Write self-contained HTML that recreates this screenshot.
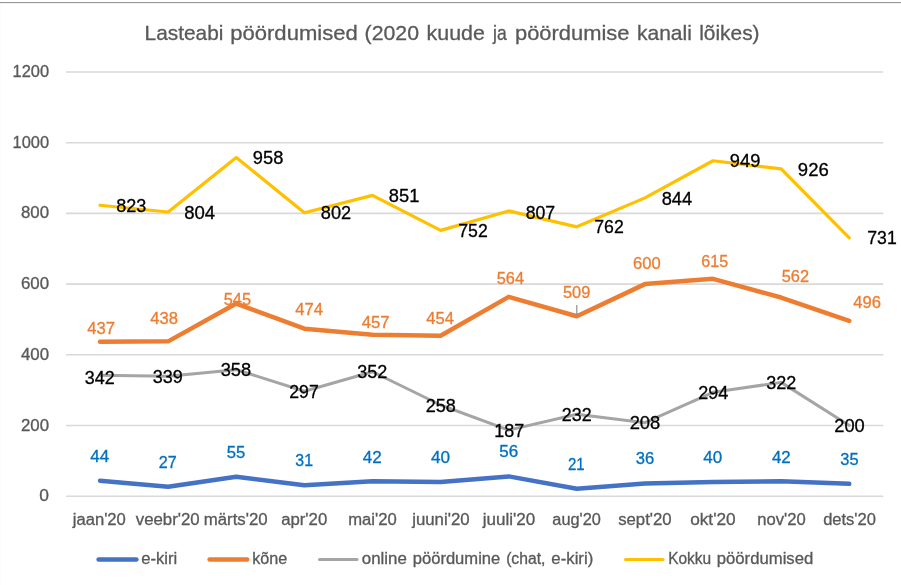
<!DOCTYPE html>
<html lang="et"><head><meta charset="utf-8"><title>Lasteabi pöördumised</title>
<style>html,body{margin:0;padding:0;background:#fff}svg{display:block}text{font-family:"Liberation Sans",sans-serif}</style>
</head><body>
<svg width="901" height="585" viewBox="0 0 901 585">
<rect x="0" y="0" width="901" height="585" fill="#fff"/>
<rect x="0" y="2" width="901" height="1" fill="#969696"/>
<rect x="0" y="3" width="901" height="1" fill="#f3f3f3"/>
<rect x="0" y="4" width="1" height="581" fill="#fbfbfb"/>
<line x1="66.0" y1="496.20" x2="883.3" y2="496.20" stroke="#D9D9D9" stroke-width="1.6"/>
<line x1="66.0" y1="425.50" x2="883.3" y2="425.50" stroke="#D9D9D9" stroke-width="1.6"/>
<line x1="66.0" y1="354.80" x2="883.3" y2="354.80" stroke="#D9D9D9" stroke-width="1.6"/>
<line x1="66.0" y1="284.10" x2="883.3" y2="284.10" stroke="#D9D9D9" stroke-width="1.6"/>
<line x1="66.0" y1="213.40" x2="883.3" y2="213.40" stroke="#D9D9D9" stroke-width="1.6"/>
<line x1="66.0" y1="142.70" x2="883.3" y2="142.70" stroke="#D9D9D9" stroke-width="1.6"/>
<line x1="66.0" y1="72.00" x2="883.3" y2="72.00" stroke="#D9D9D9" stroke-width="1.6"/>
<polyline points="100.05,205.27 168.16,211.99 236.27,157.55 304.38,212.69 372.49,195.37 440.60,230.37 508.70,210.93 576.81,226.83 644.92,197.85 713.03,160.73 781.14,168.86 849.25,237.79" fill="none" stroke="#FFC000" stroke-width="3.2" stroke-linecap="round" stroke-linejoin="round"/>
<polyline points="100.05,375.30 168.16,376.36 236.27,369.65 304.38,391.21 372.49,371.77 440.60,405.00 508.70,430.10 576.81,414.19 644.92,422.67 713.03,392.27 781.14,382.37 849.25,425.50" fill="none" stroke="#A5A5A5" stroke-width="3.0" stroke-linecap="round" stroke-linejoin="round"/>
<polyline points="100.05,341.72 168.16,341.37 236.27,303.54 304.38,328.64 372.49,334.65 440.60,335.71 508.70,296.83 576.81,316.27 644.92,284.10 713.03,278.80 781.14,297.53 849.25,320.86" fill="none" stroke="#ED7D31" stroke-width="4.5" stroke-linecap="round" stroke-linejoin="round"/>
<polyline points="100.05,480.65 168.16,486.66 236.27,476.76 304.38,485.24 372.49,481.35 440.60,482.06 508.70,476.40 576.81,488.78 644.92,483.47 713.03,482.06 781.14,481.35 849.25,483.83" fill="none" stroke="#4472C4" stroke-width="4.5" stroke-linecap="round" stroke-linejoin="round"/>
<line x1="576.8" y1="305" x2="576.8" y2="316" stroke="#8f8f8f" stroke-width="1.2"/>
<text x="44.2" y="501.2" font-size="15.6" fill="#595959" stroke="#595959" stroke-width="0.3" text-anchor="middle" textLength="9.7" lengthAdjust="spacingAndGlyphs">0</text>
<text x="35.0" y="430.5" font-size="15.6" fill="#595959" stroke="#595959" stroke-width="0.3" text-anchor="middle" textLength="28.1" lengthAdjust="spacingAndGlyphs">200</text>
<text x="35.0" y="359.8" font-size="15.6" fill="#595959" stroke="#595959" stroke-width="0.3" text-anchor="middle" textLength="28.1" lengthAdjust="spacingAndGlyphs">400</text>
<text x="35.0" y="289.1" font-size="15.6" fill="#595959" stroke="#595959" stroke-width="0.3" text-anchor="middle" textLength="28.1" lengthAdjust="spacingAndGlyphs">600</text>
<text x="35.0" y="218.4" font-size="15.6" fill="#595959" stroke="#595959" stroke-width="0.3" text-anchor="middle" textLength="28.1" lengthAdjust="spacingAndGlyphs">800</text>
<text x="30.8" y="147.7" font-size="15.6" fill="#595959" stroke="#595959" stroke-width="0.3" text-anchor="middle" textLength="36.5" lengthAdjust="spacingAndGlyphs">1000</text>
<text x="30.8" y="77.0" font-size="15.6" fill="#595959" stroke="#595959" stroke-width="0.3" text-anchor="middle" textLength="36.5" lengthAdjust="spacingAndGlyphs">1200</text>
<text x="99.3" y="524.9" font-size="15.6" fill="#595959" stroke="#595959" stroke-width="0.3" text-anchor="middle" textLength="53.1" lengthAdjust="spacingAndGlyphs">jaan'20</text>
<text x="167.7" y="524.9" font-size="15.6" fill="#595959" stroke="#595959" stroke-width="0.3" text-anchor="middle" textLength="63.9" lengthAdjust="spacingAndGlyphs">veebr'20</text>
<text x="235.7" y="524.9" font-size="15.6" fill="#595959" stroke="#595959" stroke-width="0.3" text-anchor="middle" textLength="63.9" lengthAdjust="spacingAndGlyphs">märts'20</text>
<text x="304.2" y="524.9" font-size="15.6" fill="#595959" stroke="#595959" stroke-width="0.3" text-anchor="middle" textLength="46.1" lengthAdjust="spacingAndGlyphs">apr'20</text>
<text x="372.4" y="524.9" font-size="15.6" fill="#595959" stroke="#595959" stroke-width="0.3" text-anchor="middle" textLength="48.5" lengthAdjust="spacingAndGlyphs">mai'20</text>
<text x="440.9" y="524.9" font-size="15.6" fill="#595959" stroke="#595959" stroke-width="0.3" text-anchor="middle" textLength="57.4" lengthAdjust="spacingAndGlyphs">juuni'20</text>
<text x="509.0" y="524.9" font-size="15.6" fill="#595959" stroke="#595959" stroke-width="0.3" text-anchor="middle" textLength="52.5" lengthAdjust="spacingAndGlyphs">juuli'20</text>
<text x="576.6" y="524.9" font-size="15.6" fill="#595959" stroke="#595959" stroke-width="0.3" text-anchor="middle" textLength="48.5" lengthAdjust="spacingAndGlyphs">aug'20</text>
<text x="644.9" y="524.9" font-size="15.6" fill="#595959" stroke="#595959" stroke-width="0.3" text-anchor="middle" textLength="53.5" lengthAdjust="spacingAndGlyphs">sept'20</text>
<text x="712.9" y="524.9" font-size="15.6" fill="#595959" stroke="#595959" stroke-width="0.3" text-anchor="middle" textLength="45.5" lengthAdjust="spacingAndGlyphs">okt'20</text>
<text x="781.4" y="524.9" font-size="15.6" fill="#595959" stroke="#595959" stroke-width="0.3" text-anchor="middle" textLength="48.5" lengthAdjust="spacingAndGlyphs">nov'20</text>
<text x="849.5" y="524.9" font-size="15.6" fill="#595959" stroke="#595959" stroke-width="0.3" text-anchor="middle" textLength="52.7" lengthAdjust="spacingAndGlyphs">dets'20</text>
<text x="184.0" y="40.0" font-size="21.0" fill="#595959" stroke="#595959" stroke-width="0.3" text-anchor="middle" textLength="78.8" lengthAdjust="spacingAndGlyphs">Lasteabi</text>
<text x="294.0" y="40.0" font-size="21.0" fill="#595959" stroke="#595959" stroke-width="0.3" text-anchor="middle" textLength="127.6" lengthAdjust="spacingAndGlyphs">pöördumised</text>
<text x="391.8" y="40.0" font-size="21.0" fill="#595959" stroke="#595959" stroke-width="0.3" text-anchor="middle" textLength="54.4" lengthAdjust="spacingAndGlyphs">(2020</text>
<text x="455.7" y="40.0" font-size="21.0" fill="#595959" stroke="#595959" stroke-width="0.3" text-anchor="middle" textLength="58.2" lengthAdjust="spacingAndGlyphs">kuude</text>
<text x="499.9" y="40.0" font-size="21.0" fill="#595959" stroke="#595959" stroke-width="0.3" text-anchor="middle" textLength="13.7" lengthAdjust="spacingAndGlyphs">ja</text>
<text x="572.2" y="40.0" font-size="21.0" fill="#595959" stroke="#595959" stroke-width="0.3" text-anchor="middle" textLength="114.4" lengthAdjust="spacingAndGlyphs">pöördumise</text>
<text x="664.4" y="40.0" font-size="21.0" fill="#595959" stroke="#595959" stroke-width="0.3" text-anchor="middle" textLength="54.8" lengthAdjust="spacingAndGlyphs">kanali</text>
<text x="729.4" y="40.0" font-size="21.0" fill="#595959" stroke="#595959" stroke-width="0.3" text-anchor="middle" textLength="60.4" lengthAdjust="spacingAndGlyphs">lõikes)</text>
<line x1="98.6" y1="559.4" x2="136.4" y2="559.4" stroke="#4472C4" stroke-width="4.5" stroke-linecap="round"/>
<line x1="209.6" y1="559.4" x2="247.2" y2="559.4" stroke="#ED7D31" stroke-width="4.5" stroke-linecap="round"/>
<line x1="319.5" y1="559.4" x2="357.0" y2="559.4" stroke="#A5A5A5" stroke-width="3.0" stroke-linecap="round"/>
<line x1="625.5" y1="559.4" x2="663.0" y2="559.4" stroke="#FFC000" stroke-width="3.0" stroke-linecap="round"/>
<text x="159.2" y="563.8" font-size="15.6" fill="#595959" stroke="#595959" stroke-width="0.3" text-anchor="middle" textLength="36.1" lengthAdjust="spacingAndGlyphs">e-kiri</text>
<text x="269.7" y="563.8" font-size="15.6" fill="#595959" stroke="#595959" stroke-width="0.3" text-anchor="middle" textLength="35.1" lengthAdjust="spacingAndGlyphs">kõne</text>
<text x="384.3" y="563.8" font-size="15.6" fill="#595959" stroke="#595959" stroke-width="0.3" text-anchor="middle" textLength="45.1" lengthAdjust="spacingAndGlyphs">online</text>
<text x="456.5" y="563.8" font-size="15.6" fill="#595959" stroke="#595959" stroke-width="0.3" text-anchor="middle" textLength="87.5" lengthAdjust="spacingAndGlyphs">pöördumine</text>
<text x="525.8" y="563.8" font-size="15.6" fill="#595959" stroke="#595959" stroke-width="0.3" text-anchor="middle" textLength="39.3" lengthAdjust="spacingAndGlyphs">(chat,</text>
<text x="572.3" y="563.8" font-size="15.6" fill="#595959" stroke="#595959" stroke-width="0.3" text-anchor="middle" textLength="41.9" lengthAdjust="spacingAndGlyphs">e-kiri)</text>
<text x="689.7" y="563.8" font-size="15.6" fill="#595959" stroke="#595959" stroke-width="0.3" text-anchor="middle" textLength="43.1" lengthAdjust="spacingAndGlyphs">Kokku</text>
<text x="765.0" y="563.8" font-size="15.6" fill="#595959" stroke="#595959" stroke-width="0.3" text-anchor="middle" textLength="96.5" lengthAdjust="spacingAndGlyphs">pöördumised</text>
<text x="131.3" y="211.8" font-size="18.0" fill="#000000" stroke="#000000" stroke-width="0.3" text-anchor="middle" textLength="30.1" lengthAdjust="spacingAndGlyphs">823</text>
<text x="199.7" y="219.0" font-size="18.0" fill="#000000" stroke="#000000" stroke-width="0.3" text-anchor="middle" textLength="30.9" lengthAdjust="spacingAndGlyphs">804</text>
<text x="268.1" y="164.0" font-size="18.0" fill="#000000" stroke="#000000" stroke-width="0.3" text-anchor="middle" textLength="30.5" lengthAdjust="spacingAndGlyphs">958</text>
<text x="336.0" y="219.0" font-size="18.0" fill="#000000" stroke="#000000" stroke-width="0.3" text-anchor="middle" textLength="30.3" lengthAdjust="spacingAndGlyphs">802</text>
<text x="404.1" y="201.8" font-size="18.0" fill="#000000" stroke="#000000" stroke-width="0.3" text-anchor="middle" textLength="30.5" lengthAdjust="spacingAndGlyphs">851</text>
<text x="473.0" y="237.0" font-size="18.0" fill="#000000" stroke="#000000" stroke-width="0.3" text-anchor="middle" textLength="29.5" lengthAdjust="spacingAndGlyphs">752</text>
<text x="540.4" y="218.6" font-size="18.0" fill="#000000" stroke="#000000" stroke-width="0.3" text-anchor="middle" textLength="29.5" lengthAdjust="spacingAndGlyphs">807</text>
<text x="609.0" y="233.2" font-size="18.0" fill="#000000" stroke="#000000" stroke-width="0.3" text-anchor="middle" textLength="29.5" lengthAdjust="spacingAndGlyphs">762</text>
<text x="676.9" y="205.0" font-size="18.0" fill="#000000" stroke="#000000" stroke-width="0.3" text-anchor="middle" textLength="30.5" lengthAdjust="spacingAndGlyphs">844</text>
<text x="745.1" y="166.8" font-size="18.0" fill="#000000" stroke="#000000" stroke-width="0.3" text-anchor="middle" textLength="30.5" lengthAdjust="spacingAndGlyphs">949</text>
<text x="813.3" y="176.0" font-size="18.0" fill="#000000" stroke="#000000" stroke-width="0.3" text-anchor="middle" textLength="30.9" lengthAdjust="spacingAndGlyphs">926</text>
<text x="882.0" y="243.8" font-size="18.0" fill="#000000" stroke="#000000" stroke-width="0.3" text-anchor="middle" textLength="29.5" lengthAdjust="spacingAndGlyphs">731</text>
<text x="99.8" y="384.0" font-size="18.0" fill="#000000" stroke="#000000" stroke-width="0.3" text-anchor="middle" textLength="29.9" lengthAdjust="spacingAndGlyphs">342</text>
<text x="167.7" y="383.0" font-size="18.0" fill="#000000" stroke="#000000" stroke-width="0.3" text-anchor="middle" textLength="30.1" lengthAdjust="spacingAndGlyphs">339</text>
<text x="235.9" y="376.0" font-size="18.0" fill="#000000" stroke="#000000" stroke-width="0.3" text-anchor="middle" textLength="30.5" lengthAdjust="spacingAndGlyphs">358</text>
<text x="304.0" y="398.0" font-size="18.0" fill="#000000" stroke="#000000" stroke-width="0.3" text-anchor="middle" textLength="29.5" lengthAdjust="spacingAndGlyphs">297</text>
<text x="372.3" y="378.0" font-size="18.0" fill="#000000" stroke="#000000" stroke-width="0.3" text-anchor="middle" textLength="30.1" lengthAdjust="spacingAndGlyphs">352</text>
<text x="440.7" y="412.0" font-size="18.0" fill="#000000" stroke="#000000" stroke-width="0.3" text-anchor="middle" textLength="30.1" lengthAdjust="spacingAndGlyphs">258</text>
<text x="509.2" y="437.0" font-size="18.0" fill="#000000" stroke="#000000" stroke-width="0.3" text-anchor="middle" textLength="29.9" lengthAdjust="spacingAndGlyphs">187</text>
<text x="576.8" y="421.0" font-size="18.0" fill="#000000" stroke="#000000" stroke-width="0.3" text-anchor="middle" textLength="29.9" lengthAdjust="spacingAndGlyphs">232</text>
<text x="645.0" y="429.0" font-size="18.0" fill="#000000" stroke="#000000" stroke-width="0.3" text-anchor="middle" textLength="30.7" lengthAdjust="spacingAndGlyphs">208</text>
<text x="713.3" y="399.0" font-size="18.0" fill="#000000" stroke="#000000" stroke-width="0.3" text-anchor="middle" textLength="30.1" lengthAdjust="spacingAndGlyphs">294</text>
<text x="781.3" y="389.0" font-size="18.0" fill="#000000" stroke="#000000" stroke-width="0.3" text-anchor="middle" textLength="30.1" lengthAdjust="spacingAndGlyphs">322</text>
<text x="849.5" y="432.0" font-size="18.0" fill="#000000" stroke="#000000" stroke-width="0.3" text-anchor="middle" textLength="30.5" lengthAdjust="spacingAndGlyphs">200</text>
<text x="101.2" y="334.1" font-size="15.6" fill="#ED7D31" stroke="#ED7D31" stroke-width="0.3" text-anchor="middle" textLength="27.7" lengthAdjust="spacingAndGlyphs">437</text>
<text x="164.2" y="324.3" font-size="15.6" fill="#ED7D31" stroke="#ED7D31" stroke-width="0.3" text-anchor="middle" textLength="27.7" lengthAdjust="spacingAndGlyphs">438</text>
<text x="237.4" y="305.1" font-size="15.6" fill="#ED7D31" stroke="#ED7D31" stroke-width="0.3" text-anchor="middle" textLength="27.3" lengthAdjust="spacingAndGlyphs">545</text>
<text x="309.2" y="315.3" font-size="15.6" fill="#ED7D31" stroke="#ED7D31" stroke-width="0.3" text-anchor="middle" textLength="27.7" lengthAdjust="spacingAndGlyphs">474</text>
<text x="375.7" y="327.7" font-size="15.6" fill="#ED7D31" stroke="#ED7D31" stroke-width="0.3" text-anchor="middle" textLength="27.9" lengthAdjust="spacingAndGlyphs">457</text>
<text x="440.2" y="324.3" font-size="15.6" fill="#ED7D31" stroke="#ED7D31" stroke-width="0.3" text-anchor="middle" textLength="27.7" lengthAdjust="spacingAndGlyphs">454</text>
<text x="510.4" y="284.1" font-size="15.6" fill="#ED7D31" stroke="#ED7D31" stroke-width="0.3" text-anchor="middle" textLength="27.3" lengthAdjust="spacingAndGlyphs">564</text>
<text x="576.6" y="298.3" font-size="15.6" fill="#ED7D31" stroke="#ED7D31" stroke-width="0.3" text-anchor="middle" textLength="27.3" lengthAdjust="spacingAndGlyphs">509</text>
<text x="646.8" y="269.3" font-size="15.6" fill="#ED7D31" stroke="#ED7D31" stroke-width="0.3" text-anchor="middle" textLength="27.7" lengthAdjust="spacingAndGlyphs">600</text>
<text x="714.8" y="267.3" font-size="15.6" fill="#ED7D31" stroke="#ED7D31" stroke-width="0.3" text-anchor="middle" textLength="26.9" lengthAdjust="spacingAndGlyphs">615</text>
<text x="795.4" y="282.3" font-size="15.6" fill="#ED7D31" stroke="#ED7D31" stroke-width="0.3" text-anchor="middle" textLength="27.3" lengthAdjust="spacingAndGlyphs">562</text>
<text x="867.2" y="308.3" font-size="15.6" fill="#ED7D31" stroke="#ED7D31" stroke-width="0.3" text-anchor="middle" textLength="27.7" lengthAdjust="spacingAndGlyphs">496</text>
<text x="99.8" y="462.2" font-size="15.6" fill="#0070C0" stroke="#0070C0" stroke-width="0.3" text-anchor="middle" textLength="18.9" lengthAdjust="spacingAndGlyphs">44</text>
<text x="167.7" y="468.2" font-size="15.6" fill="#0070C0" stroke="#0070C0" stroke-width="0.3" text-anchor="middle" textLength="17.9" lengthAdjust="spacingAndGlyphs">27</text>
<text x="236.0" y="458.2" font-size="15.6" fill="#0070C0" stroke="#0070C0" stroke-width="0.3" text-anchor="middle" textLength="18.5" lengthAdjust="spacingAndGlyphs">55</text>
<text x="304.2" y="466.2" font-size="15.6" fill="#0070C0" stroke="#0070C0" stroke-width="0.3" text-anchor="middle" textLength="17.7" lengthAdjust="spacingAndGlyphs">31</text>
<text x="372.2" y="462.6" font-size="15.6" fill="#0070C0" stroke="#0070C0" stroke-width="0.3" text-anchor="middle" textLength="18.9" lengthAdjust="spacingAndGlyphs">42</text>
<text x="440.5" y="463.2" font-size="15.6" fill="#0070C0" stroke="#0070C0" stroke-width="0.3" text-anchor="middle" textLength="19.1" lengthAdjust="spacingAndGlyphs">40</text>
<text x="508.8" y="457.2" font-size="15.6" fill="#0070C0" stroke="#0070C0" stroke-width="0.3" text-anchor="middle" textLength="18.9" lengthAdjust="spacingAndGlyphs">56</text>
<text x="576.3" y="470.2" font-size="15.6" fill="#0070C0" stroke="#0070C0" stroke-width="0.3" text-anchor="middle" textLength="16.7" lengthAdjust="spacingAndGlyphs">21</text>
<text x="645.0" y="464.2" font-size="15.6" fill="#0070C0" stroke="#0070C0" stroke-width="0.3" text-anchor="middle" textLength="18.5" lengthAdjust="spacingAndGlyphs">36</text>
<text x="712.8" y="463.2" font-size="15.6" fill="#0070C0" stroke="#0070C0" stroke-width="0.3" text-anchor="middle" textLength="18.9" lengthAdjust="spacingAndGlyphs">40</text>
<text x="781.3" y="462.6" font-size="15.6" fill="#0070C0" stroke="#0070C0" stroke-width="0.3" text-anchor="middle" textLength="18.7" lengthAdjust="spacingAndGlyphs">42</text>
<text x="849.5" y="465.2" font-size="15.6" fill="#0070C0" stroke="#0070C0" stroke-width="0.3" text-anchor="middle" textLength="18.3" lengthAdjust="spacingAndGlyphs">35</text>
</svg>
</body></html>
